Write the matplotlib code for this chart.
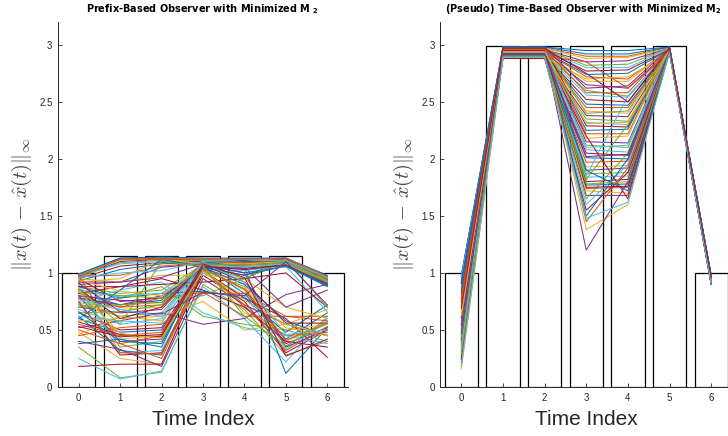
import numpy as np
import matplotlib
matplotlib.use("Agg")
import matplotlib.pyplot as plt

plt.rcParams["font.family"] = ["Liberation Sans", "DejaVu Sans"]

# MATLAB default line colours
colors = ["#0072BD", "#D95319", "#EDB120", "#7E2F8E", "#77AC30", "#4DBEEE", "#A2142F"]

time_index = [0, 1, 2, 3, 4, 5, 6]

# bar heights (bounds) for each panel
prefix_bounds = [1.0, 1.15, 1.15, 1.15, 1.15, 1.15, 1.0]
time_bounds = [1.0, 2.99, 2.99, 2.99, 2.99, 2.99, 1.0]

# error trajectories, prefix-based observer
prefix_runs = [
    [0.99, 1.13, 1.13, 1.12, 1.12, 1.13, 0.97],
    [0.98, 1.12, 1.13, 1.12, 1.12, 1.12, 0.96],
    [0.99, 1.11, 1.12, 1.12, 1.11, 1.12, 0.96],
    [0.97, 1.10, 1.12, 1.11, 1.11, 1.12, 0.95],
    [0.96, 1.09, 1.11, 1.11, 1.10, 1.11, 0.94],
    [0.98, 1.08, 1.10, 1.10, 1.10, 1.11, 0.93],
    [0.95, 1.06, 1.09, 1.10, 1.09, 1.10, 0.93],
    [0.93, 1.03, 1.08, 1.09, 1.09, 1.10, 0.92],
    [0.97, 0.98, 1.06, 1.09, 1.08, 1.09, 0.92],
    [0.92, 0.95, 1.12, 1.08, 1.08, 1.08, 0.91],
    [0.90, 0.92, 1.05, 1.08, 1.07, 1.09, 0.90],
    [0.88, 0.82, 0.85, 1.07, 1.06, 1.08, 0.91],
    [0.85, 0.80, 0.82, 1.06, 1.05, 1.07, 0.92],
    [0.95, 0.75, 0.78, 1.05, 1.07, 1.08, 0.93],
    [0.82, 0.72, 0.76, 1.08, 1.10, 1.10, 0.94],
    [0.78, 0.70, 0.72, 1.10, 1.09, 1.11, 0.95],
    [0.75, 0.68, 0.70, 1.09, 1.08, 1.10, 0.93],
    [0.70, 0.65, 0.68, 1.07, 1.06, 1.09, 0.90],
    [0.72, 0.62, 0.65, 1.06, 0.95, 1.10, 0.92],
    [0.68, 0.55, 0.60, 1.08, 1.02, 1.08, 0.89],
    [0.65, 0.50, 0.52, 1.05, 0.98, 1.09, 0.91],
    [0.60, 0.48, 0.50, 1.07, 1.00, 1.06, 0.88],
    [0.55, 0.45, 0.48, 1.09, 1.04, 1.07, 0.90],
    [0.92, 0.42, 0.45, 1.04, 0.90, 0.40, 0.55],
    [0.80, 0.40, 0.42, 1.05, 0.85, 0.38, 0.52],
    [0.85, 0.35, 0.40, 1.02, 0.88, 0.35, 0.60],
    [0.90, 0.30, 0.32, 1.00, 0.80, 0.33, 0.58],
    [0.75, 0.28, 0.30, 0.98, 0.75, 0.30, 0.50],
    [0.62, 0.32, 0.28, 1.06, 0.82, 0.42, 0.65],
    [0.50, 0.38, 0.25, 1.03, 0.70, 0.45, 0.48],
    [0.48, 0.25, 0.20, 1.04, 0.65, 0.50, 0.55],
    [0.40, 0.33, 0.18, 0.95, 0.72, 0.55, 0.45],
    [0.35, 0.08, 0.13, 0.90, 0.68, 0.28, 0.40],
    [0.25, 0.07, 0.14, 0.88, 0.60, 0.22, 0.62],
    [0.18, 0.20, 0.20, 1.02, 0.78, 0.60, 0.26],
    [0.38, 0.42, 0.35, 1.10, 1.05, 0.12, 0.52],
    [0.45, 0.52, 0.55, 0.82, 0.82, 0.62, 0.58],
    [0.58, 0.60, 0.62, 0.75, 0.50, 0.55, 0.68],
    [0.52, 0.58, 0.65, 0.55, 0.60, 0.81, 0.90],
    [0.70, 0.78, 0.88, 0.62, 0.55, 0.50, 0.40],
    [0.75, 0.85, 0.92, 0.65, 0.52, 0.45, 0.38],
    [0.82, 0.88, 0.95, 0.85, 0.70, 0.40, 0.35],
    [0.88, 0.78, 0.82, 0.84, 0.78, 0.48, 0.72],
    [0.80, 0.70, 0.78, 0.83, 0.62, 0.62, 0.62],
    [0.95, 0.92, 0.98, 0.98, 0.95, 0.70, 0.60],
    [0.78, 0.72, 0.80, 1.02, 1.05, 0.70, 0.85],
    [0.65, 0.66, 0.72, 1.06, 1.08, 1.05, 0.95],
    [0.72, 0.80, 0.82, 1.00, 1.02, 1.06, 0.66],
    [0.88, 0.88, 0.90, 0.92, 0.95, 1.00, 0.70],
    [0.60, 0.85, 1.12, 1.05, 0.90, 0.58, 0.45],
    [0.98, 0.38, 0.45, 1.03, 0.72, 0.32, 0.53],
    [0.46, 0.62, 0.58, 1.04, 0.85, 0.52, 0.45],
    [0.92, 0.92, 0.96, 1.08, 1.00, 0.35, 0.50],
    [0.83, 0.80, 0.78, 0.80, 0.95, 1.12, 0.70],
    [0.96, 1.00, 1.02, 1.10, 1.12, 1.11, 0.96],
    [0.86, 0.60, 0.70, 1.07, 0.92, 0.56, 0.56],
    [0.99, 1.13, 1.14, 1.13, 1.13, 1.13, 0.98],
    [0.97, 1.12, 1.12, 1.12, 1.12, 1.13, 0.97],
    [0.94, 0.84, 0.80, 1.06, 1.06, 1.08, 0.92],
    [0.80, 0.76, 0.74, 1.05, 1.04, 1.07, 0.91],
    [0.70, 0.72, 0.74, 1.08, 1.07, 1.09, 0.92],
    [0.62, 0.58, 0.56, 1.07, 1.05, 1.08, 0.90],
    [0.57, 0.46, 0.44, 1.06, 1.03, 1.07, 0.90],
    [0.66, 0.40, 0.38, 1.05, 0.98, 1.06, 0.89],
    [0.74, 0.30, 0.29, 1.04, 0.86, 0.41, 0.56],
    [0.84, 0.47, 0.43, 1.02, 0.76, 0.55, 0.46],
    [0.91, 0.66, 0.64, 0.83, 0.80, 1.10, 0.72],
    [0.86, 0.55, 1.10, 1.06, 0.62, 0.36, 0.57],
    [0.77, 0.68, 0.62, 1.09, 0.92, 0.46, 0.50],
    [0.53, 0.44, 0.46, 1.08, 0.96, 0.27, 0.42],
]

# error trajectories, (pseudo) time-based observer
time_runs = [
    [0.98, 2.98, 2.98, 2.95, 2.95, 2.98, 0.97],
    [0.95, 2.97, 2.97, 2.90, 2.90, 2.98, 0.96],
    [0.90, 2.97, 2.97, 2.88, 2.89, 2.97, 0.96],
    [0.88, 2.96, 2.96, 2.85, 2.86, 2.97, 0.95],
    [0.85, 2.96, 2.96, 2.82, 2.83, 2.97, 0.95],
    [0.80, 2.95, 2.95, 2.80, 2.80, 2.97, 0.94],
    [0.78, 2.95, 2.95, 2.77, 2.78, 2.96, 0.94],
    [0.75, 2.94, 2.94, 2.74, 2.75, 2.96, 0.94],
    [0.72, 2.94, 2.94, 2.72, 2.70, 2.96, 0.93],
    [0.70, 2.93, 2.93, 2.68, 2.68, 2.96, 0.93],
    [0.68, 2.93, 2.93, 2.65, 2.62, 2.95, 0.93],
    [0.65, 2.92, 2.92, 2.60, 2.55, 2.95, 0.92],
    [0.62, 2.92, 2.92, 2.56, 2.54, 2.95, 0.92],
    [0.60, 2.91, 2.91, 2.52, 2.50, 2.95, 0.92],
    [0.58, 2.91, 2.91, 2.48, 2.47, 2.94, 0.92],
    [0.55, 2.90, 2.90, 2.45, 2.45, 2.94, 0.91],
    [0.52, 2.90, 2.90, 2.42, 2.40, 2.94, 0.91],
    [0.50, 2.89, 2.89, 2.38, 2.37, 2.94, 0.91],
    [0.48, 2.89, 2.89, 2.35, 2.33, 2.93, 0.91],
    [0.45, 2.88, 2.88, 2.32, 2.30, 2.93, 0.90],
    [0.42, 2.98, 2.98, 2.29, 2.28, 2.98, 0.98],
    [0.40, 2.97, 2.97, 2.25, 2.26, 2.97, 0.97],
    [0.38, 2.96, 2.96, 2.22, 2.22, 2.97, 0.96],
    [0.35, 2.95, 2.95, 2.18, 2.20, 2.96, 0.95],
    [0.32, 2.94, 2.94, 2.15, 2.14, 2.96, 0.94],
    [0.30, 2.93, 2.93, 2.12, 2.10, 2.95, 0.93],
    [0.28, 2.92, 2.92, 2.08, 2.06, 2.95, 0.92],
    [0.25, 2.91, 2.91, 2.05, 2.03, 2.94, 0.91],
    [0.22, 2.90, 2.90, 2.01, 2.00, 2.94, 0.90],
    [0.18, 2.89, 2.89, 1.97, 1.98, 2.93, 0.90],
    [0.16, 2.88, 2.88, 1.93, 1.94, 2.93, 0.91],
    [0.97, 2.98, 2.98, 1.90, 1.92, 2.98, 0.98],
    [0.93, 2.97, 2.97, 1.87, 1.88, 2.97, 0.97],
    [0.86, 2.96, 2.96, 1.84, 1.85, 2.97, 0.96],
    [0.82, 2.95, 2.95, 1.80, 1.82, 2.96, 0.95],
    [0.76, 2.94, 2.94, 1.77, 1.78, 2.96, 0.94],
    [0.71, 2.93, 2.93, 1.74, 1.75, 2.95, 0.93],
    [0.66, 2.92, 2.92, 1.72, 1.70, 2.95, 0.92],
    [0.61, 2.91, 2.91, 1.68, 1.68, 2.94, 0.92],
    [0.56, 2.90, 2.90, 1.65, 2.05, 2.94, 0.91],
    [0.51, 2.89, 2.89, 1.60, 1.95, 2.93, 0.91],
    [0.46, 2.88, 2.88, 1.55, 1.88, 2.93, 0.90],
    [0.41, 2.98, 2.98, 1.50, 2.00, 2.98, 0.97],
    [0.36, 2.97, 2.97, 1.45, 1.92, 2.97, 0.96],
    [0.31, 2.96, 2.96, 1.38, 1.60, 2.96, 0.95],
    [0.26, 2.95, 2.95, 1.20, 1.80, 2.96, 0.94],
    [0.21, 2.94, 2.94, 1.82, 2.30, 2.95, 0.93],
    [0.96, 2.93, 2.93, 1.85, 2.55, 2.95, 0.92],
    [0.91, 2.92, 2.92, 2.20, 1.65, 2.94, 0.91],
    [0.84, 2.91, 2.91, 1.90, 1.72, 2.94, 0.90],
    [0.74, 2.90, 2.90, 2.85, 2.62, 2.93, 0.95],
    [0.64, 2.89, 2.89, 2.70, 2.72, 2.93, 0.94],
    [0.54, 2.98, 2.98, 2.62, 2.64, 2.97, 0.96],
    [0.44, 2.97, 2.97, 2.40, 2.42, 2.96, 0.95],
    [0.34, 2.96, 2.96, 2.10, 2.12, 2.96, 0.94],
    [0.24, 2.95, 2.95, 1.75, 1.76, 2.95, 0.93],
    [0.92, 2.98, 2.98, 2.92, 2.92, 2.98, 0.98],
    [0.78, 2.96, 2.96, 2.58, 2.58, 2.97, 0.95],
    [0.63, 2.94, 2.94, 2.31, 2.32, 2.96, 0.94],
    [0.47, 2.92, 2.92, 2.02, 2.04, 2.95, 0.93],
    [0.29, 2.90, 2.90, 1.78, 1.80, 2.94, 0.92],
    [0.19, 2.89, 2.89, 1.48, 1.62, 2.93, 0.91],
    [0.69, 2.97, 2.97, 2.75, 2.50, 2.97, 0.96],
]

titles = [
    r"Prefix-Based Observer with Minimized M $_{\mathbf{2}}$",
    r"(Pseudo) Time-Based Observer with Minimized M$_{\mathbf{2}}$",
]

axis_grey = "#262626"

fig = plt.figure(figsize=(7.28, 4.36), dpi=100)
ax1 = fig.add_axes([58 / 728, 49 / 436, 290 / 728, 365 / 436])
ax2 = fig.add_axes([440.5 / 728, 49 / 436, 291.5 / 728, 365 / 436])

for ax, bounds, runs, title in [(ax1, prefix_bounds, prefix_runs, titles[0]),
                                (ax2, time_bounds, time_runs, titles[1])]:
    ax.bar(time_index, bounds, width=0.8, facecolor="white",
           edgecolor="black", linewidth=0.9, zorder=1)
    for i, run in enumerate(runs):
        ax.plot(time_index, run, color=colors[i % len(colors)], lw=0.75, zorder=2)

    ax.set_xlim(-0.5, 6.5)
    ax.set_ylim(0, 3.2)
    ax.set_xticks(time_index)
    ax.set_yticks([0, 0.5, 1, 1.5, 2, 2.5, 3])
    ax.set_yticklabels(["0", "0.5", "1", "1.5", "2", "2.5", "3"])
    ax.tick_params(direction="in", length=3, width=0.6, labelsize=7,
                   colors=axis_grey, pad=4)
    for s in ["top", "right"]:
        ax.spines[s].set_visible(False)
    for s in ["left", "bottom"]:
        ax.spines[s].set_color(axis_grey)
        ax.spines[s].set_linewidth(0.7)

    ax.set_xlabel("Time Index", fontsize=15, color=axis_grey, labelpad=5)
    ax.set_ylabel(r"$\|x(t)\,-\,\hat{x}(t)\|_\infty$", fontsize=14.5,
                  color="#404040", math_fontfamily="cm", labelpad=4)

ax1.set_title(titles[0], fontsize=7, fontweight="bold", pad=7,
              family=["DejaVu Sans"], math_fontfamily="dejavusans")
# right-hand title sits against the figure edge, as in the original
ax2.set_title(titles[1], fontsize=7, fontweight="bold", pad=7,
              x=0.965, ha="right",
              family=["DejaVu Sans"], math_fontfamily="dejavusans")

fig.savefig("out.png", dpi=100)
